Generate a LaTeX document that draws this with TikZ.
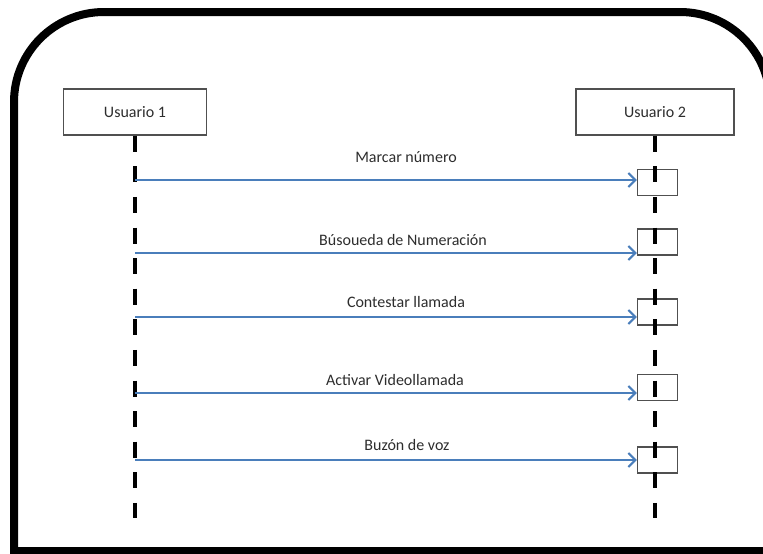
\documentclass[tikz,border=0pt]{standalone}
\usepackage{fontspec}
\setmainfont{Carlito}
\usetikzlibrary{arrows.meta}
\definecolor{msgblue}{RGB}{74,126,187}
\definecolor{boxgray}{RGB}{80,80,80}
\definecolor{txtgray}{RGB}{45,45,45}
\tikzset{
  frameline/.style={line width=8pt,black},
  actor/.style={draw=boxgray,line width=1.4pt,minimum width=#1,minimum height=46pt,
    inner sep=0pt,font=\fontsize{16}{18}\selectfont,text=txtgray},
  actbox/.style={draw=boxgray,line width=1.4pt,minimum width=40pt,minimum height=26pt,inner sep=0pt},
  lifeline/.style={line width=3.2pt,black,dash pattern=on 16pt off 14.6pt},
  msg/.style={line width=2pt,msgblue,-{Straight Barb[length=7pt,width=14pt,line width=2pt]}},
  msglabel/.style={font=\fontsize{16}{18}\selectfont,text=txtgray,inner sep=1pt}
}
\begin{document}
\begin{tikzpicture}[x=1pt,y=-1pt]
  \useasboundingbox (0,0) rectangle (763,554);
  % outer frame
  \begin{scope}
    \clip (0,0) rectangle (763,554);
    \draw[frameline,rounded corners=90pt] (14,560) -- (14,12) -- (770,12) -- (770,560);
    \draw[frameline] (10,551) -- (775,551);
  \end{scope}
  % actors and lifelines
  \node[actor=143pt] (u1) at (135,112) {Usuario 1};
  \node[actor=158pt] (u2) at (655,112) {Usuario 2};
  \coordinate (e1) at (135,518);
  \coordinate (e2) at (655,518);
  \foreach \by [count=\i] in {182.5,242,312,387.5,460}
    \node[actbox] (a\i) at (657.5,\by) {};
  \draw[lifeline] (u1.south) -- (e1);
  \draw[lifeline] (u2.south) -- (e2);
  % messages
  \foreach \ay/\lx/\ly/\txt [count=\i] in {180/406/157/Marcar número,
      253/403/240/Búsoueda de Numeración,
      317/406/302/Contestar llamada,
      393/395/380/Activar Videollamada,
      460/407/445/Buzón de voz}{
    \coordinate (s\i) at (135,\ay);
    \draw[msg] (s\i) -- (s\i -| a\i.west);
    \node[msglabel] (l\i) at (\lx,\ly) {\txt};
  }
\end{tikzpicture}
\end{document}
